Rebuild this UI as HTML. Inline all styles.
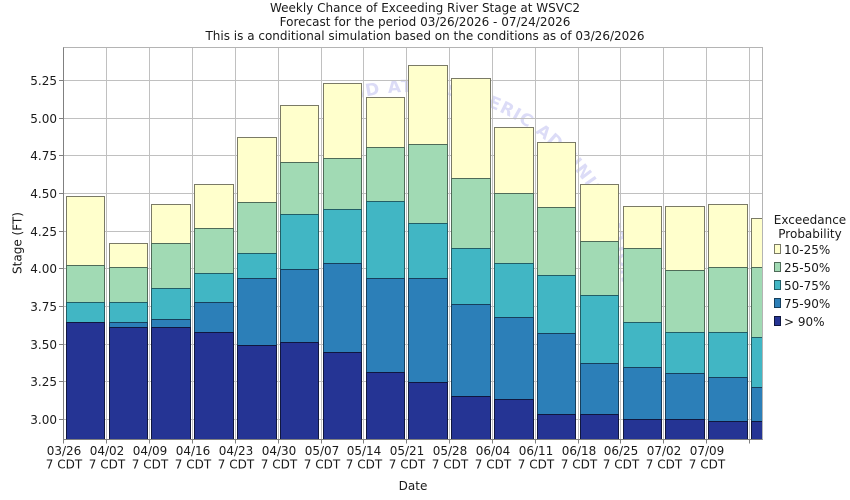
<!DOCTYPE html>
<html>
<head>
<meta charset="utf-8">
<style>
  html, body { margin: 0; padding: 0; background: #ffffff; }
  svg { display: block; }
  text { font-family: "DejaVu Sans", "Liberation Sans", sans-serif; font-size: 12px; fill: #1a1a1a; }
  .y  { fill: #ffffcc; stroke: #7a7a66; }
  .g  { fill: #a1dab4; stroke: #4f6b58; }
  .t  { fill: #41b6c4; stroke: #225e66; }
  .b  { fill: #2c7fb8; stroke: #173f5c; }
  .n  { fill: #253494; stroke: #10173f; }
  .bars rect { stroke-width: 1; }
  .grid line { stroke: #c0c0c0; stroke-width: 1; }
  .tick line { stroke: #808080; stroke-width: 1; }
</style>
</head>
<body>
<svg width="850" height="500" viewBox="0 0 850 500" xmlns="http://www.w3.org/2000/svg">
  <defs>
    <clipPath id="plot"><rect x="63.5" y="47.5" width="699" height="392"/></clipPath>
    <path id="wm" d="M 197 305 A 213 213 0 0 1 623 305 A 213 213 0 0 1 197 305"/>
  </defs>

  <!-- Title -->
  <text x="425" y="12" text-anchor="middle">Weekly Chance of Exceeding River Stage at WSVC2</text>
  <text x="425" y="26" text-anchor="middle">Forecast for the period 03/26/2026 - 07/24/2026</text>
  <text x="425" y="40" text-anchor="middle">This is a conditional simulation based on the conditions as of 03/26/2026</text>

  <!-- plot background -->
  <rect x="63.5" y="47.5" width="699" height="392" fill="#ffffff"/>

  <!-- watermark -->
  <g clip-path="url(#plot)">
    <text style="font-size:17px;font-weight:bold;fill:#dcdcf7;letter-spacing:1px;"><textPath href="#wm" startOffset="261">AND ATMOSPHERIC ADMINISTRATION</textPath></text>
  </g>

  <!-- gridlines -->
  <g class="grid">
    <line x1="63.5" y1="80.5" x2="762.5" y2="80.5"/>
    <line x1="63.5" y1="118.5" x2="762.5" y2="118.5"/>
    <line x1="63.5" y1="155.5" x2="762.5" y2="155.5"/>
    <line x1="63.5" y1="193.5" x2="762.5" y2="193.5"/>
    <line x1="63.5" y1="231.5" x2="762.5" y2="231.5"/>
    <line x1="63.5" y1="268.5" x2="762.5" y2="268.5"/>
    <line x1="63.5" y1="306.5" x2="762.5" y2="306.5"/>
    <line x1="63.5" y1="344.5" x2="762.5" y2="344.5"/>
    <line x1="63.5" y1="381.5" x2="762.5" y2="381.5"/>
    <line x1="63.5" y1="419.5" x2="762.5" y2="419.5"/>

    <line x1="106.5" y1="47.5" x2="106.5" y2="439.5"/>
    <line x1="149.5" y1="47.5" x2="149.5" y2="439.5"/>
    <line x1="192.5" y1="47.5" x2="192.5" y2="439.5"/>
    <line x1="235.5" y1="47.5" x2="235.5" y2="439.5"/>
    <line x1="278.5" y1="47.5" x2="278.5" y2="439.5"/>
    <line x1="321.5" y1="47.5" x2="321.5" y2="439.5"/>
    <line x1="363.5" y1="47.5" x2="363.5" y2="439.5"/>
    <line x1="406.5" y1="47.5" x2="406.5" y2="439.5"/>
    <line x1="449.5" y1="47.5" x2="449.5" y2="439.5"/>
    <line x1="492.5" y1="47.5" x2="492.5" y2="439.5"/>
    <line x1="535.5" y1="47.5" x2="535.5" y2="439.5"/>
    <line x1="578.5" y1="47.5" x2="578.5" y2="439.5"/>
    <line x1="620.5" y1="47.5" x2="620.5" y2="439.5"/>
    <line x1="663.5" y1="47.5" x2="663.5" y2="439.5"/>
    <line x1="706.5" y1="47.5" x2="706.5" y2="439.5"/>
    <line x1="749.5" y1="47.5" x2="749.5" y2="439.5"/>
  </g>

  <!-- bars -->
  <g class="bars" clip-path="url(#plot)">
    <!-- 1 03/26 -->
    <rect class="y" x="66.5" y="196.5" width="38" height="69"/>
    <rect class="g" x="66.5" y="265.5" width="38" height="37"/>
    <rect class="t" x="66.5" y="302.5" width="38" height="20"/>
    <rect class="n" x="66.5" y="322.5" width="38" height="117"/>
    <!-- 2 04/02 -->
    <rect class="y" x="109.5" y="243.5" width="38" height="24"/>
    <rect class="g" x="109.5" y="267.5" width="38" height="35"/>
    <rect class="t" x="109.5" y="302.5" width="38" height="20"/>
    <rect class="b" x="109.5" y="322.5" width="38" height="5"/>
    <rect class="n" x="109.5" y="327.5" width="38" height="112"/>
    <!-- 3 04/09 -->
    <rect class="y" x="151.5" y="204.5" width="39" height="39"/>
    <rect class="g" x="151.5" y="243.5" width="39" height="45"/>
    <rect class="t" x="151.5" y="288.5" width="39" height="31"/>
    <rect class="b" x="151.5" y="319.5" width="39" height="8"/>
    <rect class="n" x="151.5" y="327.5" width="39" height="112"/>
    <!-- 4 04/16 -->
    <rect class="y" x="194.5" y="184.5" width="39" height="44"/>
    <rect class="g" x="194.5" y="228.5" width="39" height="45"/>
    <rect class="t" x="194.5" y="273.5" width="39" height="29"/>
    <rect class="b" x="194.5" y="302.5" width="39" height="30"/>
    <rect class="n" x="194.5" y="332.5" width="39" height="107"/>
    <!-- 5 04/23 -->
    <rect class="y" x="237.5" y="137.5" width="39" height="65"/>
    <rect class="g" x="237.5" y="202.5" width="39" height="51"/>
    <rect class="t" x="237.5" y="253.5" width="39" height="25"/>
    <rect class="b" x="237.5" y="278.5" width="39" height="67"/>
    <rect class="n" x="237.5" y="345.5" width="39" height="94"/>
    <!-- 6 04/30 -->
    <rect class="y" x="280.5" y="105.5" width="38" height="57"/>
    <rect class="g" x="280.5" y="162.5" width="38" height="52"/>
    <rect class="t" x="280.5" y="214.5" width="38" height="55"/>
    <rect class="b" x="280.5" y="269.5" width="38" height="73"/>
    <rect class="n" x="280.5" y="342.5" width="38" height="97"/>
    <!-- 7 05/07 -->
    <rect class="y" x="323.5" y="83.5" width="38" height="75"/>
    <rect class="g" x="323.5" y="158.5" width="38" height="51"/>
    <rect class="t" x="323.5" y="209.5" width="38" height="54"/>
    <rect class="b" x="323.5" y="263.5" width="38" height="89"/>
    <rect class="n" x="323.5" y="352.5" width="38" height="87"/>
    <!-- 8 05/14 -->
    <rect class="y" x="366.5" y="97.5" width="38" height="50"/>
    <rect class="g" x="366.5" y="147.5" width="38" height="54"/>
    <rect class="t" x="366.5" y="201.5" width="38" height="77"/>
    <rect class="b" x="366.5" y="278.5" width="38" height="94"/>
    <rect class="n" x="366.5" y="372.5" width="38" height="67"/>
    <!-- 9 05/21 -->
    <rect class="y" x="408.5" y="65.5" width="39" height="79"/>
    <rect class="g" x="408.5" y="144.5" width="39" height="79"/>
    <rect class="t" x="408.5" y="223.5" width="39" height="55"/>
    <rect class="b" x="408.5" y="278.5" width="39" height="104"/>
    <rect class="n" x="408.5" y="382.5" width="39" height="57"/>
    <!-- 10 05/28 -->
    <rect class="y" x="451.5" y="78.5" width="39" height="100"/>
    <rect class="g" x="451.5" y="178.5" width="39" height="70"/>
    <rect class="t" x="451.5" y="248.5" width="39" height="56"/>
    <rect class="b" x="451.5" y="304.5" width="39" height="92"/>
    <rect class="n" x="451.5" y="396.5" width="39" height="43"/>
    <!-- 11 06/04 -->
    <rect class="y" x="494.5" y="127.5" width="39" height="66"/>
    <rect class="g" x="494.5" y="193.5" width="39" height="70"/>
    <rect class="t" x="494.5" y="263.5" width="39" height="54"/>
    <rect class="b" x="494.5" y="317.5" width="39" height="82"/>
    <rect class="n" x="494.5" y="399.5" width="39" height="40"/>
    <!-- 12 06/11 -->
    <rect class="y" x="537.5" y="142.5" width="38" height="65"/>
    <rect class="g" x="537.5" y="207.5" width="38" height="68"/>
    <rect class="t" x="537.5" y="275.5" width="38" height="58"/>
    <rect class="b" x="537.5" y="333.5" width="38" height="81"/>
    <rect class="n" x="537.5" y="414.5" width="38" height="25"/>
    <!-- 13 06/18 -->
    <rect class="y" x="580.5" y="184.5" width="38" height="57"/>
    <rect class="g" x="580.5" y="241.5" width="38" height="54"/>
    <rect class="t" x="580.5" y="295.5" width="38" height="68"/>
    <rect class="b" x="580.5" y="363.5" width="38" height="51"/>
    <rect class="n" x="580.5" y="414.5" width="38" height="25"/>
    <!-- 14 06/25 -->
    <rect class="y" x="623.5" y="206.5" width="38" height="42"/>
    <rect class="g" x="623.5" y="248.5" width="38" height="74"/>
    <rect class="t" x="623.5" y="322.5" width="38" height="45"/>
    <rect class="b" x="623.5" y="367.5" width="38" height="52"/>
    <rect class="n" x="623.5" y="419.5" width="38" height="20"/>
    <!-- 15 07/02 -->
    <rect class="y" x="665.5" y="206.5" width="39" height="64"/>
    <rect class="g" x="665.5" y="270.5" width="39" height="62"/>
    <rect class="t" x="665.5" y="332.5" width="39" height="41"/>
    <rect class="b" x="665.5" y="373.5" width="39" height="46"/>
    <rect class="n" x="665.5" y="419.5" width="39" height="20"/>
    <!-- 16 07/09 -->
    <rect class="y" x="708.5" y="204.5" width="39" height="63"/>
    <rect class="g" x="708.5" y="267.5" width="39" height="65"/>
    <rect class="t" x="708.5" y="332.5" width="39" height="45"/>
    <rect class="b" x="708.5" y="377.5" width="39" height="44"/>
    <rect class="n" x="708.5" y="421.5" width="39" height="18"/>
    <!-- 17 07/16 -->
    <rect class="y" x="751.5" y="218.5" width="39" height="49"/>
    <rect class="g" x="751.5" y="267.5" width="39" height="70"/>
    <rect class="t" x="751.5" y="337.5" width="39" height="50"/>
    <rect class="b" x="751.5" y="387.5" width="39" height="34"/>
    <rect class="n" x="751.5" y="421.5" width="39" height="18"/>
  </g>

  <!-- plot outline -->
  <rect x="63.5" y="47.5" width="699" height="392" fill="none" stroke="#b4b4b4" stroke-width="1"/>
  <line x1="63.5" y1="47.5" x2="63.5" y2="439.5" stroke="#808080" stroke-width="1"/>
  <line x1="63.5" y1="439.5" x2="762.5" y2="439.5" stroke="#808080" stroke-width="1"/>

  <!-- ticks -->
  <g class="tick">
    <line x1="59" y1="80.5" x2="63.5" y2="80.5"/>
    <line x1="59" y1="118.5" x2="63.5" y2="118.5"/>
    <line x1="59" y1="155.5" x2="63.5" y2="155.5"/>
    <line x1="59" y1="193.5" x2="63.5" y2="193.5"/>
    <line x1="59" y1="231.5" x2="63.5" y2="231.5"/>
    <line x1="59" y1="268.5" x2="63.5" y2="268.5"/>
    <line x1="59" y1="306.5" x2="63.5" y2="306.5"/>
    <line x1="59" y1="344.5" x2="63.5" y2="344.5"/>
    <line x1="59" y1="381.5" x2="63.5" y2="381.5"/>
    <line x1="59" y1="419.5" x2="63.5" y2="419.5"/>

    <line x1="63.5" y1="439.5" x2="63.5" y2="443.5"/>
    <line x1="106.5" y1="439.5" x2="106.5" y2="443.5"/>
    <line x1="149.5" y1="439.5" x2="149.5" y2="443.5"/>
    <line x1="192.5" y1="439.5" x2="192.5" y2="443.5"/>
    <line x1="235.5" y1="439.5" x2="235.5" y2="443.5"/>
    <line x1="278.5" y1="439.5" x2="278.5" y2="443.5"/>
    <line x1="321.5" y1="439.5" x2="321.5" y2="443.5"/>
    <line x1="363.5" y1="439.5" x2="363.5" y2="443.5"/>
    <line x1="406.5" y1="439.5" x2="406.5" y2="443.5"/>
    <line x1="449.5" y1="439.5" x2="449.5" y2="443.5"/>
    <line x1="492.5" y1="439.5" x2="492.5" y2="443.5"/>
    <line x1="535.5" y1="439.5" x2="535.5" y2="443.5"/>
    <line x1="578.5" y1="439.5" x2="578.5" y2="443.5"/>
    <line x1="620.5" y1="439.5" x2="620.5" y2="443.5"/>
    <line x1="663.5" y1="439.5" x2="663.5" y2="443.5"/>
    <line x1="706.5" y1="439.5" x2="706.5" y2="443.5"/>
    <line x1="749.5" y1="439.5" x2="749.5" y2="443.5"/>
  </g>

  <!-- y tick labels -->
  <g text-anchor="end">
    <text x="57" y="85">5.25</text>
    <text x="57" y="123">5.00</text>
    <text x="57" y="160">4.75</text>
    <text x="57" y="198">4.50</text>
    <text x="57" y="236">4.25</text>
    <text x="57" y="273">4.00</text>
    <text x="57" y="311">3.75</text>
    <text x="57" y="349">3.50</text>
    <text x="57" y="386">3.25</text>
    <text x="57" y="424">3.00</text>
  </g>

  <!-- x tick labels -->
  <g text-anchor="middle">
    <text x="64" y="455">03/26</text><text x="64" y="468.5">7 CDT</text>
    <text x="107" y="455">04/02</text><text x="107" y="468.5">7 CDT</text>
    <text x="150" y="455">04/09</text><text x="150" y="468.5">7 CDT</text>
    <text x="193" y="455">04/16</text><text x="193" y="468.5">7 CDT</text>
    <text x="236" y="455">04/23</text><text x="236" y="468.5">7 CDT</text>
    <text x="279" y="455">04/30</text><text x="279" y="468.5">7 CDT</text>
    <text x="322" y="455">05/07</text><text x="322" y="468.5">7 CDT</text>
    <text x="364" y="455">05/14</text><text x="364" y="468.5">7 CDT</text>
    <text x="407" y="455">05/21</text><text x="407" y="468.5">7 CDT</text>
    <text x="450" y="455">05/28</text><text x="450" y="468.5">7 CDT</text>
    <text x="493" y="455">06/04</text><text x="493" y="468.5">7 CDT</text>
    <text x="536" y="455">06/11</text><text x="536" y="468.5">7 CDT</text>
    <text x="579" y="455">06/18</text><text x="579" y="468.5">7 CDT</text>
    <text x="621" y="455">06/25</text><text x="621" y="468.5">7 CDT</text>
    <text x="664" y="455">07/02</text><text x="664" y="468.5">7 CDT</text>
    <text x="707" y="455">07/09</text><text x="707" y="468.5">7 CDT</text>
  </g>

  <!-- axis labels -->
  <text x="413" y="490" text-anchor="middle">Date</text>
  <text transform="translate(21.5,243) rotate(-90)" text-anchor="middle">Stage (FT)</text>

  <!-- legend -->
  <text x="810" y="224" text-anchor="middle">Exceedance</text>
  <text x="810" y="238" text-anchor="middle">Probability</text>
  <rect class="y" x="774.5" y="244.5" width="6" height="9" stroke-width="1"/>
  <text x="784" y="254">10-25%</text>
  <rect class="g" x="774.5" y="262.5" width="6" height="9" stroke-width="1"/>
  <text x="784" y="272">25-50%</text>
  <rect class="t" x="774.5" y="280.5" width="6" height="9" stroke-width="1"/>
  <text x="784" y="290">50-75%</text>
  <rect class="b" x="774.5" y="298.5" width="6" height="9" stroke-width="1"/>
  <text x="784" y="308">75-90%</text>
  <rect class="n" x="774.5" y="316.5" width="6" height="9" stroke-width="1"/>
  <text x="784" y="326">&gt; 90%</text>
</svg>
</body>
</html>
